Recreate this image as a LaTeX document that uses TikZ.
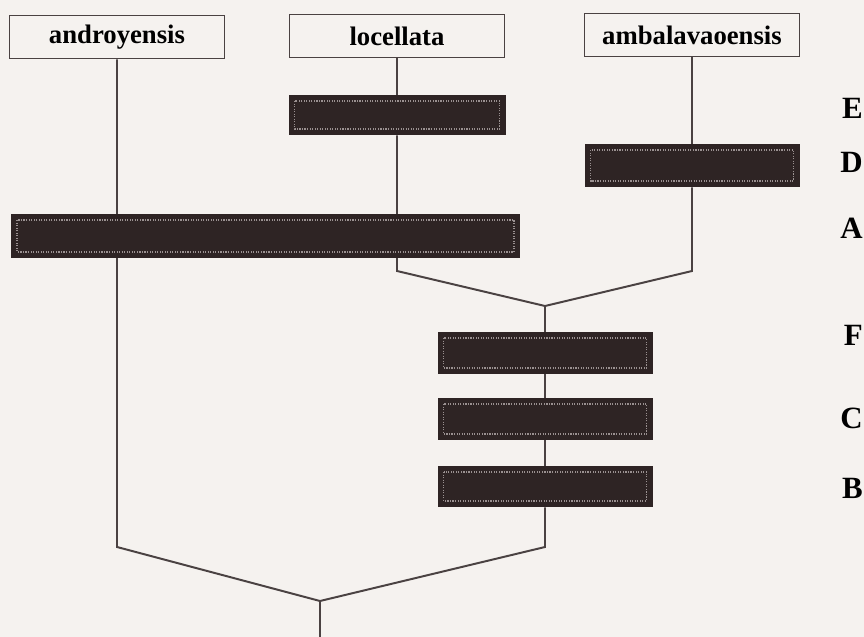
\documentclass[tikz,border=0pt]{standalone}
\usepackage{fontspec}
\setmainfont{Liberation Serif}
\usetikzlibrary{backgrounds}
\definecolor{paper}{HTML}{F5F2EF}
\definecolor{ink}{HTML}{4A4242}
\definecolor{bardark}{HTML}{2E2424}
\definecolor{barspeck}{HTML}{9A9191}
\newcommand{\pxl}{0.025cm}

\begin{document}
\begin{tikzpicture}[
  x=\pxl, y=-\pxl,
  taxon/.style={draw=ink,line width=1.2pt,minimum width=215*\pxl,minimum height=43*\pxl,inner sep=0pt,font=\fontsize{19}{22}\selectfont\bfseries},
  bar/.style={fill=bardark,minimum width=215*\pxl,minimum height=42*\pxl,inner sep=0pt,
    path picture={\draw[barspeck,densely dotted,line width=0.8pt]
      ([shift={(6*\pxl,-6*\pxl)}]path picture bounding box.north west) rectangle
      ([shift={(-6*\pxl,6*\pxl)}]path picture bounding box.south east);}},
  lab/.style={anchor=east,inner sep=0pt,font=\fontsize{22}{26}\selectfont\bfseries},
  branch/.style={draw=ink,line width=1.4pt}
]
\useasboundingbox (0,0) rectangle (864,637);
\node[taxon] (andro) at (117,37) {androyensis};
\node[taxon] (loc) at (397,36) {locellata};
\node[taxon] (amb) at (692,35) {ambalavaoensis};
\node[bar,minimum width=217*\pxl,minimum height=40*\pxl] (E) at (397,115) {};
\node[bar,minimum height=43*\pxl] (D) at (692,165.5) {};
\node[bar,minimum width=509*\pxl,minimum height=44*\pxl] (A) at (265.5,236) {};
\node[bar] (F) at (545,353) {};
\node[bar] (C) at (545,419) {};
\node[bar,minimum height=41*\pxl] (B) at (545,486.5) {};
\node[lab] (labE) at (863,108) {E};
\node[lab] (labD) at (863,162) {D};
\node[lab] (labA) at (863,228) {A};
\node[lab] (labF) at (863,335) {F};
\node[lab] (labC) at (863,418) {C};
\node[lab] (labB) at (863,488) {B};
\coordinate (jl) at (397,271);
\coordinate (jr) at (692,271);
\coordinate (jn) at (545,306);
\coordinate (lc) at (117,547);
\coordinate (rc) at (545,547);
\coordinate (root) at (320,601);
\coordinate (rootend) at (320,637);
\begin{scope}[on background layer]
\fill[paper] (0,0) rectangle (864,637);
\draw[branch] (loc.south) -- (E.north);
\draw[branch] (amb.south) -- (D.north);
\draw[branch] (E.south) -- (jl) -- (jn) -- (jr) -- (D.south);
\draw[branch] (jn) -- (F.north);
\draw[branch] (F.south) -- (C.north);
\draw[branch] (C.south) -- (B.north);
\draw[branch] (andro.south) -- (lc) -- (root) -- (rc) -- (B.south);
\draw[branch] (root) -- (rootend);
\end{scope}
\end{tikzpicture}
\end{document}
